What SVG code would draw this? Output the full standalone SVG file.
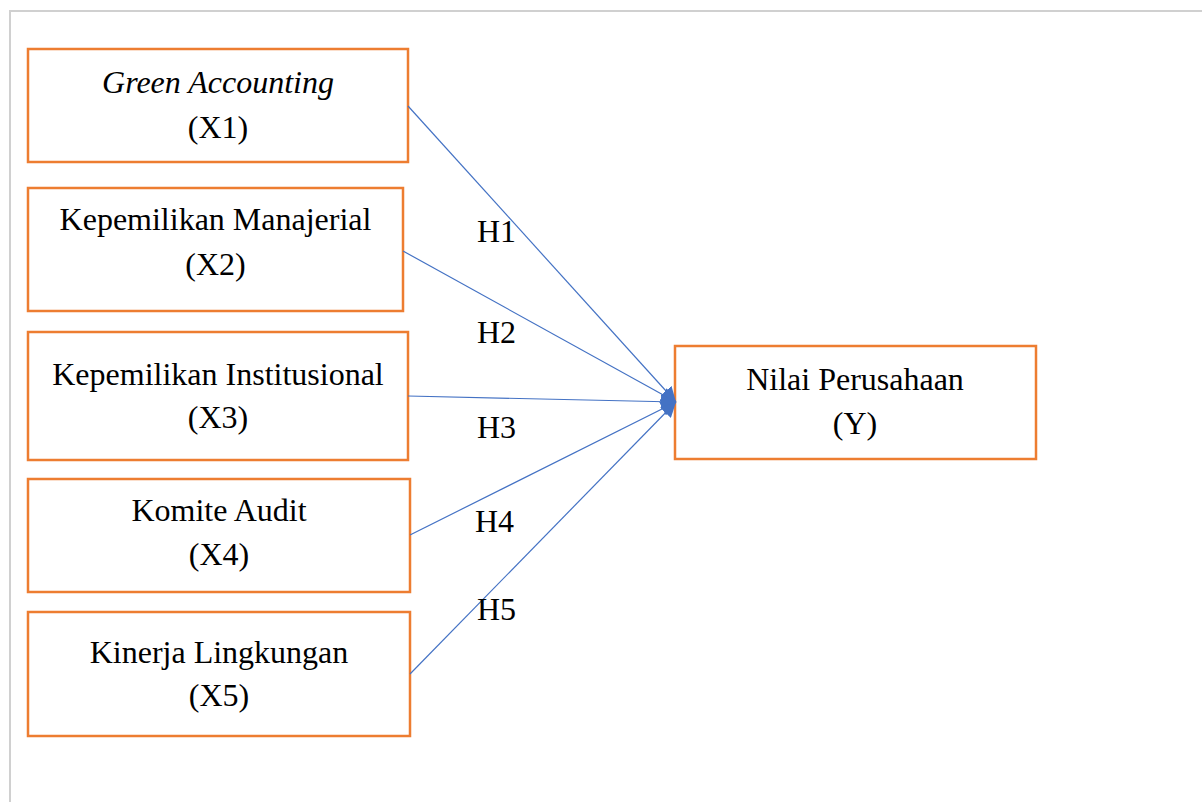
<svg xmlns="http://www.w3.org/2000/svg" width="1202" height="802" viewBox="0 0 1202 802">
<style>
.box{fill:#fff;stroke:#ED7D31;stroke-width:2.5}
.t{font-family:"Liberation Serif","Times New Roman",serif;font-size:32px;fill:#000;text-anchor:middle}
.i{font-style:italic}
.c{stroke:#4472C4;stroke-width:1.2;fill:none;marker-end:url(#ah)}
.h{font-family:"Liberation Serif","Times New Roman",serif;font-size:32px;fill:#000}
</style>
<defs>
<marker id="ah" viewBox="0 0 10 10" refX="10" refY="5" markerWidth="15" markerHeight="15" markerUnits="userSpaceOnUse" orient="auto">
<path d="M0,0 L10,5 L0,10 z" fill="#4472C4"/>
</marker>
</defs>
<rect x="0" y="0" width="1202" height="802" fill="#fff"/>
<path d="M10,802 V11 H1202" fill="none" stroke="#d0d0d0" stroke-width="2"/>
<g id="x1"><rect class="box" x="28" y="49" width="380" height="113"/><text class="t i" x="218" y="93">Green Accounting</text><text class="t" x="218" y="138">(X1)</text></g>
<g id="x2"><rect class="box" x="28" y="188" width="375" height="123"/><text class="t" x="215.5" y="230">Kepemilikan Manajerial</text><text class="t" x="215.5" y="275">(X2)</text></g>
<g id="x3"><rect class="box" x="28" y="332" width="380" height="128"/><text class="t" x="218" y="385">Kepemilikan Institusional</text><text class="t" x="218" y="428">(X3)</text></g>
<g id="x4"><rect class="box" x="28" y="479" width="382" height="113"/><text class="t" x="219" y="521">Komite Audit</text><text class="t" x="219" y="565">(X4)</text></g>
<g id="x5"><rect class="box" x="28" y="612" width="382" height="124"/><text class="t" x="219" y="663">Kinerja Lingkungan</text><text class="t" x="219" y="706">(X5)</text></g>
<g id="y"><rect class="box" x="675" y="346" width="361" height="113"/><text class="t" x="855" y="390">Nilai Perusahaan</text><text class="t" x="855" y="434">(Y)</text></g>
<g id="connectors">
<path class="c" d="M408,106 L676,402"/>
<path class="c" d="M403,251 L676,402"/>
<path class="c" d="M408,396 L676,402"/>
<path class="c" d="M410,535 L676,402"/>
<path class="c" d="M410,674 L676,402"/>
</g>
<g id="labels">
<text class="h" x="477" y="242">H1</text>
<text class="h" x="477" y="343">H2</text>
<text class="h" x="477" y="438">H3</text>
<text class="h" x="475" y="532">H4</text>
<text class="h" x="477" y="620">H5</text>
</g>
</svg>
